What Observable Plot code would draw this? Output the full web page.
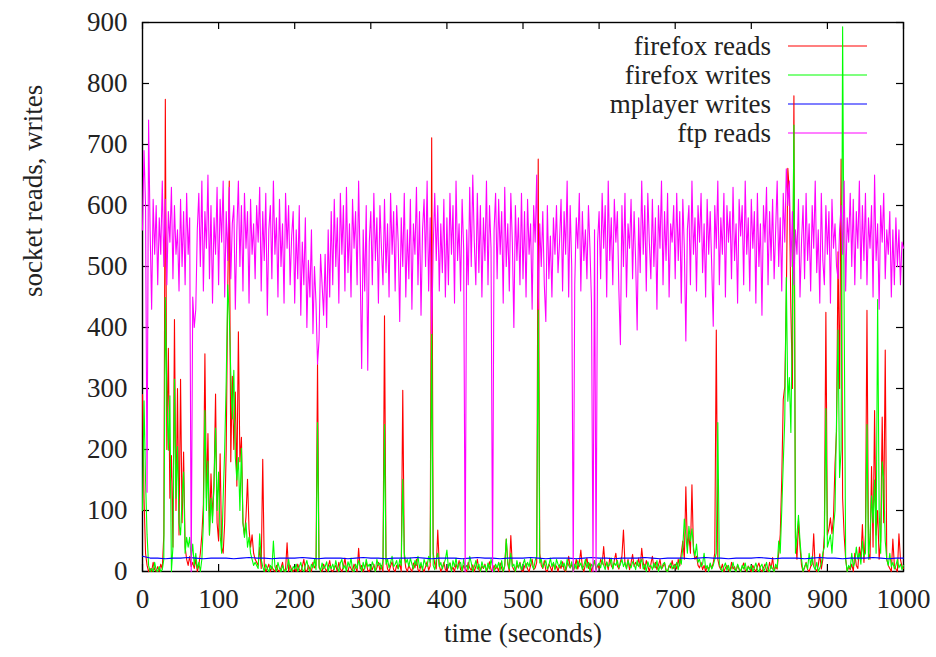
<!DOCTYPE html>
<html><head><meta charset="utf-8">
<script src="https://cdn.jsdelivr.net/npm/d3@7"></script>
<script src="https://cdn.jsdelivr.net/npm/@observablehq/plot@0.6"></script>
<style>
body{margin:0;background:#fff}
#chart{width:936px;height:657px}
#chart svg, #chart svg text{font-family:"Liberation Serif","DejaVu Serif",serif !important;}
</style>
</head><body><div id="chart"></div>
<script>
// sample spacing (seconds) of the traced series
const timeStep = 2;
const mplayerStep = 10;

const ftpReads = [
560,690,600,130,740,560,430,610,520,600,470,580,520,640,500,610,470,590,540,630,480,600,520,560,460,
610,500,590,470,620,520,580,0,450,400,430,560,620,500,640,460,590,530,650,480,600,440,580,520,630,
470,610,540,640,450,590,510,630,480,570,600,430,560,640,500,600,460,620,530,590,440,610,520,570,480,
600,540,630,460,590,510,620,420,560,600,480,640,520,580,450,610,500,570,440,620,530,600,470,550,590,
440,560,480,600,420,540,470,580,400,510,450,560,390,500,440,340,380,520,470,420,520,400,560,450,590,
470,610,500,580,440,620,520,600,460,630,490,570,450,610,530,590,470,640,500,333,560,460,600,330,540,
590,470,620,510,580,440,600,530,470,610,490,570,450,620,520,590,460,600,540,410,580,500,620,450,560,
480,610,430,570,520,630,470,590,420,560,610,500,640,460,580,390,530,620,510,600,460,570,490,610,450,
580,470,620,520,600,440,640,510,570,460,610,530,0,560,470,630,500,650,540,470,620,490,600,450,580,
510,640,470,600,530,0,560,620,480,610,520,590,440,630,500,570,460,620,540,400,600,510,580,470,620,
480,590,450,610,520,570,430,600,540,650,430,570,500,590,470,410,600,480,550,450,580,520,600,490,540,
610,460,590,520,640,450,600,500,0,470,580,530,620,460,590,510,560,480,600,530,440,0,560,0,540,
590,480,620,530,600,450,640,510,580,470,610,540,590,460,372,600,500,620,450,570,530,610,480,590,510,
396,580,490,640,520,600,460,620,540,480,610,500,580,430,600,530,640,470,590,510,620,450,570,540,600,
480,620,510,590,440,610,530,378,560,600,470,640,520,580,460,600,540,620,490,570,450,610,520,590,500,
402,600,530,640,470,580,520,620,450,600,540,590,480,630,510,570,440,610,550,600,470,640,520,580,460,
610,530,590,440,620,500,570,420,600,540,630,470,590,510,610,480,560,640,500,580,460,620,540,660,600,
640,500,590,470,560,520,610,450,540,600,480,620,510,570,460,600,530,640,490,560,440,620,510,470,600,
520,590,440,610,530,570,500,480,560,600,520,640,460,580,540,620,500,610,470,590,530,640,480,600,510,
620,470,580,530,600,450,650,510,570,430,600,540,620,480,560,520,590,450,560,470,580,500,560,470,540,
530];

const firefoxReads = [
290,120,30,10,0,5,0,15,3,0,8,0,12,4,60,774,200,366,120,190,40,413,100,300,60,
315,80,196,40,20,10,25,8,15,5,20,0,10,30,60,110,357,120,226,60,160,90,140,291,80,
50,193,40,30,80,200,460,640,180,320,200,294,140,393,180,220,80,60,90,151,70,40,60,30,20,
15,10,40,5,184,10,0,5,12,0,8,3,0,10,2,0,6,15,0,4,47,0,10,3,0,
5,0,12,3,0,8,20,2,0,10,4,0,15,6,10,342,6,3,0,12,5,0,8,18,2,
0,6,10,0,15,4,0,8,22,3,0,10,5,0,12,6,0,38,4,10,0,7,15,2,0,
8,3,12,0,6,15,2,10,0,419,20,4,0,9,16,3,0,10,5,12,0,297,25,6,0,
10,4,0,14,6,20,3,0,11,5,0,8,16,2,9,711,30,12,4,68,10,0,6,15,3,
0,9,14,2,7,0,12,5,18,3,0,10,4,0,15,6,2,11,0,8,20,3,0,9,5,
12,0,6,16,3,0,10,4,8,0,14,5,0,9,53,12,0,59,8,3,0,11,6,15,2,
0,8,13,4,0,10,20,3,6,15,676,30,10,5,18,2,0,12,7,0,14,4,9,0,11,
5,16,3,0,10,25,6,12,0,8,20,4,15,35,7,0,12,22,5,14,0,9,18,3,10,
6,20,12,41,8,15,3,22,10,5,18,30,9,4,16,25,68,12,6,20,3,14,28,8,15,
10,22,5,38,14,3,18,9,0,12,25,6,15,3,10,20,4,8,14,2,0,10,6,18,5,
12,4,20,9,30,50,20,139,40,60,30,142,35,20,25,10,6,15,3,10,0,8,4,12,5,
14,30,396,20,8,3,12,0,6,10,2,0,15,4,8,0,11,3,0,7,14,2,0,9,5,
0,10,4,0,8,14,3,0,6,12,2,0,15,5,23,0,8,4,30,60,150,282,303,450,661,
622,431,300,780,56,20,83,40,10,0,6,15,3,0,8,12,62,5,0,10,29,4,20,60,425,
60,70,88,62,90,175,230,524,300,676,120,60,20,0,8,3,12,0,30,10,5,40,20,77,15,
60,428,30,20,172,40,264,60,100,20,50,253,80,363,20,10,5,0,53,10,4,0,62,20,8,
5];

const firefoxWrites = [
100,280,150,60,10,0,5,0,15,2,0,8,0,3,20,449,288,199,288,0,40,315,120,205,80,
60,120,163,30,56,40,56,20,45,10,30,5,15,0,20,80,264,100,181,60,120,80,150,235,100,
163,60,30,120,200,312,470,420,324,250,330,187,150,187,100,202,80,56,80,40,56,30,20,10,15,
10,5,62,20,8,0,12,4,0,10,3,50,8,0,15,5,0,10,2,0,6,20,3,0,8,
4,12,0,8,15,3,0,10,18,5,0,12,6,20,3,244,10,0,14,4,8,16,0,10,5,
12,3,18,6,0,14,20,4,10,0,16,8,22,2,0,12,5,18,10,0,15,4,20,8,12,
3,16,8,0,20,10,14,4,18,241,12,20,6,15,25,8,12,18,4,20,10,151,30,14,20,
8,22,12,4,18,10,25,6,15,2,20,12,8,25,15,390,10,3,20,30,8,15,4,12,20,
35,6,14,0,18,8,22,4,12,15,0,20,6,10,3,25,14,0,8,18,4,12,0,16,6,
10,0,14,4,20,8,0,12,6,15,2,18,0,10,53,16,4,30,8,12,0,18,6,14,3,
12,20,6,15,8,22,10,4,18,25,428,14,20,6,12,18,4,10,22,8,15,3,20,12,6,
18,8,14,2,20,10,6,16,0,12,4,18,8,14,3,10,20,6,15,0,12,8,18,4,10,
14,6,20,10,3,16,8,12,22,4,14,10,18,6,12,20,8,15,4,18,10,6,16,12,3,
18,8,14,20,4,12,0,16,8,10,3,14,6,18,0,10,4,12,15,2,0,8,14,4,10,
6,15,3,20,12,40,86,60,30,74,50,70,40,25,45,15,20,8,12,30,5,10,0,14,4,
10,20,30,244,12,4,0,8,14,2,10,0,6,15,3,0,12,5,0,10,4,14,0,8,3,
10,0,6,14,3,0,8,12,0,5,15,2,0,10,4,0,12,6,50,30,100,178,250,482,279,
318,228,420,732,30,60,92,50,20,0,8,14,4,30,10,25,8,3,15,0,6,12,30,40,267,
40,50,60,30,70,100,250,396,154,200,893,431,20,0,10,5,30,8,15,40,20,30,12,50,25,
30,241,20,60,124,80,150,30,446,100,30,180,151,50,20,10,30,8,15,4,10,20,6,12,3,
10];

const mplayerWrites = [
25,22,22,21,22,22,23,22,21,22,22,22,21,22,23,22,22,21,22,22,
22,23,22,21,22,22,22,21,22,23,22,22,21,22,22,22,23,22,21,22,
22,22,21,22,23,22,22,21,22,22,22,23,22,21,22,22,22,21,22,23,
22,22,21,22,22,22,23,22,21,22,22,22,21,22,23,22,22,21,22,22,
22,23,22,21,22,22,22,21,22,23,22,22,21,22,22,22,23,22,21,22,
22];

const xTicks = [0,100,200,300,400,500,600,700,800,900,1000];
const yTicks = [0,100,200,300,400,500,600,700,800,900];
const seriesNames = ["firefox reads","firefox writes","mplayer writes","ftp reads"];
const seriesColors = ["#ff0000","#00ff00","#0000ff","#ff00ff"];

const toRows = (vals, step) => vals.map((v, i) => ({t: i * step, v}));
const series = [
  toRows(firefoxReads, timeStep),
  toRows(firefoxWrites, timeStep),
  toRows(mplayerWrites, mplayerStep),
  toRows(ftpReads, timeStep)
];

const W = 936, H = 657, mL = 142, mR = 33, mT = 22, mB = 86;
const innerH = H - mT - mB, innerW = W - mL - mR;
const fs = 27;
const tickLen = 7;

const chart = Plot.plot({
  width: W, height: H,
  marginLeft: mL, marginRight: mR, marginTop: mT, marginBottom: mB,
  style: {fontSize: fs + "px"},
  x: {domain: [0, 1000]},
  y: {domain: [0, 900]},
  marks: [
    Plot.frame({stroke: "#000", strokeWidth: 1.4}),
    Plot.tickX(xTicks, {x: d => d, insetTop: innerH - tickLen, stroke: "#000", strokeWidth: 1.2}),
    Plot.tickX(xTicks, {x: d => d, insetBottom: innerH - tickLen, stroke: "#000", strokeWidth: 1.2}),
    Plot.tickY(yTicks, {y: d => d, insetRight: innerW - tickLen, stroke: "#000", strokeWidth: 1.2}),
    Plot.tickY(yTicks, {y: d => d, insetLeft: innerW - tickLen, stroke: "#000", strokeWidth: 1.2}),
    Plot.axisX({ticks: xTicks, tickSize: 0, tickPadding: 17, fontSize: fs, fill: "#222", tickFormat: d => String(d), label: null}),
    Plot.axisY({ticks: yTicks, tickSize: 0, tickPadding: 15, fontSize: fs, fill: "#222", tickFormat: d => String(d), label: null}),
    ...series.map((rows, k) => Plot.line(rows, {x: "t", y: "v", stroke: seriesColors[k], strokeWidth: 1.1})),
    Plot.text(["time (seconds)"], {text: d => d, frameAnchor: "bottom", dy: 70, fontSize: fs, fill: "#222"}),
    Plot.text(["socket reads, writes"], {text: d => d, frameAnchor: "left", dx: -109, rotate: -90, fontSize: fs, fill: "#222"})
  ]
});

document.getElementById("chart").appendChild(chart);

// legend (gnuplot key), drawn beneath the data lines
const svg = d3.select(chart);
const leg = svg.insert("g", "g").attr("font-size", fs);
const rowY = [46, 75, 104, 133];
seriesNames.forEach((name, k) => {
  leg.append("text").attr("x", 771).attr("y", rowY[k]).attr("text-anchor", "end")
    .attr("dominant-baseline", "central").attr("fill", "#222").text(name);
  leg.append("line").attr("x1", 788).attr("x2", 867).attr("y1", rowY[k]).attr("y2", rowY[k])
    .attr("stroke", seriesColors[k]).attr("stroke-width", 1.2);
});
</script>
</body></html>
